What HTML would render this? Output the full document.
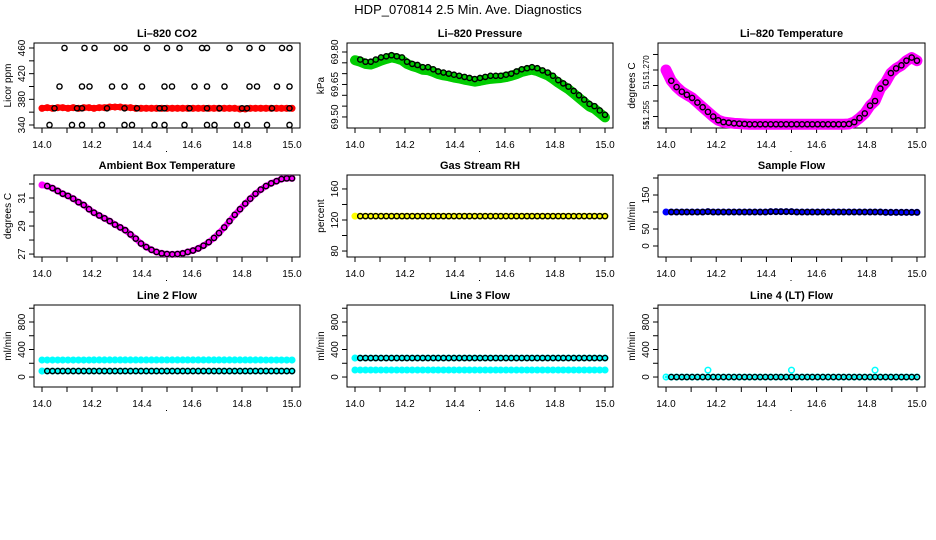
<!DOCTYPE html>
<html><head><meta charset="utf-8"><style>
html,body{margin:0;padding:0;background:#fff;}
svg{display:block;font-family:"Liberation Sans",sans-serif;}
</style></head><body>
<svg id="chart" width="936" height="540" viewBox="0 0 936 540" xmlns="http://www.w3.org/2000/svg">
<rect width="936" height="540" fill="#fff"/>
<text x="468" y="14" text-anchor="middle" font-size="13">HDP_070814  2.5 Min. Ave. Diagnostics</text>
</svg>
<script>
const times = [14.000,14.021,14.042,14.063,14.083,14.104,14.125,14.146,14.167,14.188,14.208,14.229,14.250,14.271,14.292,14.313,14.333,14.354,14.375,14.396,14.417,14.438,14.458,14.479,14.500,14.521,14.542,14.563,14.583,14.604,14.625,14.646,14.667,14.688,14.708,14.729,14.750,14.771,14.792,14.813,14.833,14.854,14.875,14.896,14.917,14.938,14.958,14.979,15.000];
const xTicks = [14.0,14.1,14.2,14.3,14.4,14.5,14.6,14.7,14.8,14.9,15.0];
const xTickLabels = ["14.0","","14.2","","14.4","","14.6","","14.8","","15.0"];

const co2Red = [366,367,366,367,367,366,367,366,367,367,366,367,367,368,368,368,367,367,366,366,366,366,366,366,366,366,366,366,366,366,366,366,366,366,366,366,366,366,365,365,366,366,366,366,366,366,366,366,366];
const co2BlackTimes = [14.09,14.17,14.21,14.30,14.33,14.42,14.50,14.55,14.64,14.66,14.75,14.83,14.88,14.96,14.99,
 14.07,14.16,14.19,14.28,14.33,14.40,14.49,14.52,14.61,14.66,14.73,14.83,14.86,14.94,14.99,
 14.05,14.14,14.16,14.26,14.33,14.38,14.47,14.49,14.59,14.66,14.71,14.80,14.82,14.92,14.99,
 14.03,14.12,14.16,14.24,14.33,14.36,14.45,14.49,14.57,14.66,14.69,14.78,14.82,14.90,14.99];
const co2BlackVals = [460,460,460,460,460,460,460,460,460,460,460,460,460,460,460,
 400,400,400,400,400,400,400,400,400,400,400,400,400,400,400,
 366,366,366,366,366,366,366,366,366,366,366,366,366,366,366,
 340,340,340,340,340,340,340,340,340,340,340,340,340,340,340];

const pressure = [69.77,69.765,69.755,69.755,69.765,69.775,69.78,69.785,69.78,69.775,69.755,69.745,69.74,69.73,69.73,69.72,69.71,69.705,69.70,69.695,69.69,69.685,69.68,69.675,69.68,69.685,69.69,69.69,69.69,69.695,69.70,69.71,69.72,69.725,69.73,69.725,69.715,69.705,69.69,69.67,69.655,69.64,69.62,69.60,69.58,69.56,69.55,69.53,69.51];
const pressureGreen = [69.762,69.755,69.745,69.742,69.75,69.76,69.768,69.775,69.77,69.762,69.745,69.735,69.728,69.718,69.716,69.708,69.698,69.692,69.688,69.682,69.678,69.672,69.668,69.663,69.667,69.672,69.676,69.678,69.68,69.684,69.69,69.698,69.708,69.714,69.718,69.712,69.702,69.692,69.676,69.658,69.643,69.628,69.608,69.588,69.568,69.548,69.538,69.518,69.498];

const licorTemp = [51.2700,51.2665,51.2645,51.2630,51.2620,51.2610,51.2595,51.2580,51.2565,51.2550,51.2538,51.2532,51.2530,51.2528,51.2527,51.2526,51.2525,51.2525,51.2525,51.2525,51.2525,51.2525,51.2525,51.2525,51.2525,51.2525,51.2525,51.2525,51.2525,51.2525,51.2525,51.2525,51.2525,51.2525,51.2525,51.2526,51.2532,51.2545,51.2560,51.2585,51.2600,51.2640,51.2660,51.2690,51.2705,51.2715,51.2730,51.2740,51.2730];

const ambient = [31.93,31.85,31.7,31.5,31.3,31.15,30.95,30.7,30.5,30.2,29.95,29.75,29.55,29.35,29.1,28.9,28.7,28.4,28.1,27.75,27.5,27.3,27.15,27.05,27.0,26.98,27.0,27.05,27.15,27.25,27.4,27.6,27.85,28.15,28.5,28.9,29.35,29.8,30.2,30.6,30.95,31.3,31.6,31.85,32.05,32.2,32.35,32.4,32.4];

const rh = [125,125,125,125,125,125,125,125,125,125,125,125,125,125,125,125,125,125,125,125,125,125,125,125,125,125,125,125,125,125,125,125,125,125,125,125,125,125,125,125,125,125,125,125,125,125,125,125,125];
const sampleFlow = [100,100,100,100,100,100,100,100,101,100,100,100,100,100,100,100,100,100,100,100,101,101,101,101,101,100,100,100,100,100,100,100,100,100,100,100,100,100,100,100,100,100,99,99,99,99,99,99,99];
const line2Upper = [247,247,247,247,247,247,247,247,247,247,248,248,248,248,248,248,248,248,248,248,248,248,248,248,248,248,248,248,248,248,248,248,248,248,248,248,248,248,248,248,248,248,248,247,247,247,247,247,247];
const line2Lower = [87,87,87,87,87,87,87,87,87,87,87,87,87,87,87,87,87,87,87,87,87,87,87,87,87,87,87,87,87,87,87,87,87,87,87,87,87,87,87,87,87,87,87,87,87,87,87,87,87];
const line3Upper = [276,276,276,276,276,276,276,276,276,276,276,276,276,276,276,276,276,276,276,276,276,276,276,276,276,276,276,276,276,276,276,276,276,276,276,276,276,276,276,276,276,276,276,276,276,276,276,276,276];
const line3Lower = [102,102,102,102,102,102,102,102,102,102,102,102,102,102,102,102,102,102,102,102,102,102,102,102,102,102,102,102,102,102,102,102,102,102,102,102,102,102,102,102,102,102,102,102,102,102,102,102,102];
const line4 = [0,0,0,0,0,0,0,0,0,0,0,0,0,0,0,0,0,0,0,0,0,0,0,0,0,0,0,0,0,0,0,0,0,0,0,0,0,0,0,0,0,0,0,0,0,0,0,0,0];
const line4OutlierTimes = [14.167,14.500,14.833];
const line4OutlierVals = [100,100,100];

const NS = "http://www.w3.org/2000/svg";
const svg = document.getElementById("chart");
function mk(tag, attrs, parent){
  const e = document.createElementNS(NS, tag);
  for (const k in attrs) e.setAttribute(k, attrs[k]);
  (parent||svg).appendChild(e);
  return e;
}

function panel(cfg){
  const g = mk("g", {});
  
  
  const [x0,x1,y0,y1] = cfg.box;
  const xs = t => x0 + (t - 13.968) / 1.064 * (x1 - x0);
  const ys = v => y1 - (v - cfg.ylo) / (cfg.yhi - cfg.ylo) * (y1 - y0);
  const title = mk("text", {x:(x0+x1)/2, y:y0-6, "text-anchor":"middle", "font-size":"11", "font-weight":"bold"}, g);
  title.textContent = cfg.title;
  
  
  const box = mk("rect", {x:x0, y:y0, width:x1-x0, height:y1-y0, fill:"none", stroke:"#000", "stroke-width":"1"}, g);
  
  
  const xa = mk("g", {}, g);
  
  
  mk("line", {x1:xs(xTicks[0]), x2:xs(xTicks[xTicks.length-1]), y1:y1, y2:y1, stroke:"#000"}, xa);
  xTicks.forEach((t,i)=>{
    mk("line", {x1:xs(t), x2:xs(t), y1:y1, y2:y1+5, stroke:"#000"}, xa);
    if (xTickLabels[i]) {
      const tx = mk("text", {x:xs(t), y:y1+20, "text-anchor":"middle", "font-size":"10"}, xa);
      tx.textContent = xTickLabels[i];
      
      
    }
  });
  const ya = mk("g", {}, g);
  
  
  mk("line", {x1:x0, x2:x0, y1:ys(cfg.yticks[0]), y2:ys(cfg.yticks[cfg.yticks.length-1]), stroke:"#000"}, ya);
  cfg.yticks.forEach(v=>{
    mk("line", {x1:x0-5, x2:x0, y1:ys(v), y2:ys(v), stroke:"#000"}, ya);
  });
  const fs = cfg.labelSize || 10;
  cfg.ylabels.forEach(([v,s])=>{
    const y = ys(v);
    const tx = mk("text", {x:x0-9, y:y, "text-anchor":"middle", "font-size":fs, transform:`rotate(-90 ${x0-9} ${y})`}, ya);
    tx.textContent = s;
    
    
  });
  const yt = mk("text", {x:x0-23, y:(y0+y1)/2, "text-anchor":"middle", "font-size":"10", transform:`rotate(-90 ${x0-23} ${(y0+y1)/2})`}, ya);
  yt.textContent = cfg.ytitle;
  
  
  const dot = mk("rect", {x:(x0+x1)/2-1, y:y1+23, width:1, height:1, fill:"#000"}, g);
  
  
  const clip = mk("g", {}, g);
  return {g:clip, xs, ys};
}

function band(p, tArr, vArr, color, width, name){
  const pts = tArr.map((t,i)=>p.xs(t)+","+p.ys(vArr[i])).join(" ");
  const pl = mk("polyline", {points:pts, fill:"none", stroke:color, "stroke-width":width, "stroke-linecap":"round", "stroke-linejoin":"round"}, p.g);
  
  
  tArr.forEach((t,i)=>{
    const c = mk("circle", {cx:p.xs(t), cy:p.ys(vArr[i]), r:2.8, fill:"none", stroke:color, "stroke-width":"1.5"}, p.g);
    
    
  });
}
function black(p, tArr, vArr, name, start){
  for (let i = start; i < tArr.length; i++){
    const c = mk("circle", {cx:p.xs(tArr[i]), cy:p.ys(vArr[i]), r:2.6, fill:"none", stroke:"#000", "stroke-width":"1.4"}, p.g);
    
    
  }
}

let p = panel({name:"co2", title:"Li\u2013820 CO2", box:[34,300,43,128], ylo:335.3, yhi:467.8, yticks:[340,360,380,400,420,440,460], ylabels:[[340,"340"],[380,"380"],[420,"420"],[460,"460"]], ytitle:"Licor ppm"});
band(p, times, co2Red, "#ff0000", 6, "co2");
black(p, co2BlackTimes, co2BlackVals, "co2", 0);

p = panel({name:"pressure", title:"Li\u2013820 Pressure", box:[347,613,43,128], ylo:69.449, yhi:69.8415, yticks:[69.50,69.55,69.60,69.65,69.70,69.75,69.80], ylabels:[[69.50,"69.50"],[69.65,"69.65"],[69.80,"69.80"]], ytitle:"kPa"});
band(p, times, pressureGreen, "#00cc00", 10, "pressure");
black(p, times, pressure, "pressure", 1);

p = panel({name:"licor-temp", title:"Li\u2013820 Temperature", box:[658,925,43,128], ylo:51.2513, yhi:51.2787, yticks:[51.255,51.260,51.265,51.270,51.275], ylabels:[[51.2708,"51.270"],[51.2652,"51"],[51.2562,"51.255"],[51.2522,"51"]], labelSize:8, ytitle:"degrees C"});
band(p, times, licorTemp, "#ff00ff", 11, "licor-temp");
black(p, times, licorTemp, "licor-temp", 1);

p = panel({name:"ambient", title:"Ambient Box Temperature", box:[34,300,175,257], ylo:26.79, yhi:32.64, yticks:[27,28,29,30,31,32], ylabels:[[27,"27"],[29,"29"],[31,"31"]], ytitle:"degrees C"});
band(p, times, ambient, "#ff00ff", 6, "ambient");
black(p, times, ambient, "ambient", 1);

p = panel({name:"rh", title:"Gas Stream RH", box:[347,613,175,257], ylo:72.3, yhi:178, yticks:[80,100,120,140,160], ylabels:[[80,"80"],[120,"120"],[160,"160"]], ytitle:"percent"});
band(p, times, rh, "#ffff00", 5, "rh");
black(p, times, rh, "rh", 1);

p = panel({name:"sample-flow", title:"Sample Flow", box:[658,925,175,257], ylo:-32.4, yhi:208.8, yticks:[0,50,100,150,200], ylabels:[[0,"0"],[50,"50"],[150,"150"]], ytitle:"ml/min"});
band(p, times, sampleFlow, "#0000ff", 5, "sample-flow");
black(p, times, sampleFlow, "sample-flow", 1);

const flowTicks = [0,200,400,600,800,1000];
const flowLabels = [[0,"0"],[400,"400"],[800,"800"]];
p = panel({name:"line2-flow", title:"Line 2 Flow", box:[34,300,305,387], ylo:-145, yhi:1047, yticks:flowTicks, ylabels:flowLabels, ytitle:"ml/min"});
band(p, times, line2Upper, "#00ffff", 5, "line2-upper");
band(p, times, line2Lower, "#00ffff", 5, "line2-lower");
black(p, times, line2Lower, "line2", 1);

p = panel({name:"line3-flow", title:"Line 3 Flow", box:[347,613,305,387], ylo:-145, yhi:1047, yticks:flowTicks, ylabels:flowLabels, ytitle:"ml/min"});
band(p, times, line3Upper, "#00ffff", 5, "line3-upper");
band(p, times, line3Lower, "#00ffff", 5, "line3-lower");
black(p, times, line3Upper, "line3", 1);

p = panel({name:"line4-flow", title:"Line 4 (LT) Flow", box:[658,925,305,387], ylo:-145, yhi:1047, yticks:flowTicks, ylabels:flowLabels, ytitle:"ml/min"});
band(p, times, line4, "#00ffff", 3, "line4");
black(p, times, line4, "line4", 1);
line4OutlierTimes.forEach((t,i)=>{
  const c = mk("circle", {cx:p.xs(t), cy:p.ys(line4OutlierVals[i]), r:2.8, fill:"none", stroke:"#00ffff", "stroke-width":"1.5"}, p.g);
  
  
});
</script>
</body></html>
